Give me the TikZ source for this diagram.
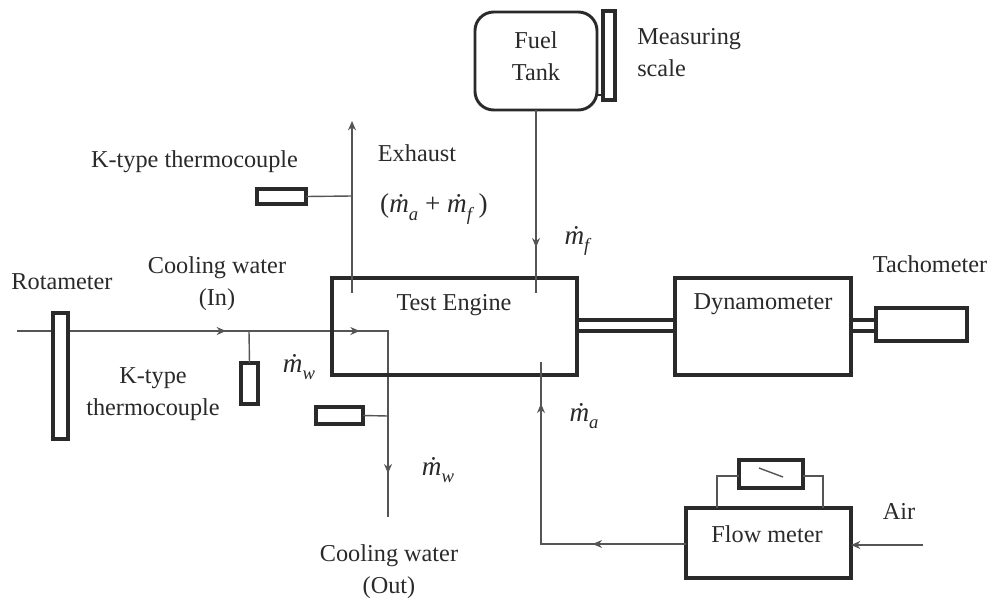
\documentclass[tikz,border=0pt]{standalone}
\usepackage{fontspec}
\setmainfont{Liberation Serif}
\usetikzlibrary{arrows.meta,decorations.markings}
\definecolor{ink}{HTML}{2A2A2A}
\definecolor{wire}{HTML}{555555}
\newcommand{\massflow}[1]{\textit{ṁ}\raisebox{-0.28em}{\fontsize{14pt}{14pt}\selectfont\textit{#1}}}
\tikzset{
  bx/.style 2 args={draw=ink,line width=2.3pt,fill=none,inner sep=0pt,outer sep=0pt,minimum width=#1*0.75pt,minimum height=#2*0.75pt},
  wbx/.style 2 args={bx={#1}{#2},fill=white},
  wirel/.style={draw=wire,line width=1.05pt},
  shaftl/.style={draw=ink,line width=2.3pt},
  tick/.style={postaction={decorate,decoration={markings,mark=at position #1 with {\arrow[wire]{Stealth[length=7pt,width=6pt]}}}}},
  lbl/.style={text=ink,font=\fontsize{18.2pt}{24pt}\selectfont,inner sep=0pt,align=center},
  lbll/.style={lbl,align=left},
  mth/.style={text=ink,font=\fontsize{20.4pt}{22pt}\selectfont,inner sep=0pt},
}
\begin{document}
\begin{tikzpicture}[x=0.75pt,y=-0.75pt]
\useasboundingbox[fill=white] (0,0) rectangle (989,600);
% coordinates
\coordinate (wstart) at (17,331);
\coordinate (wcorner) at (388,331);
\coordinate (wend) at (388,517);
\coordinate (tj1) at (249,331);
\coordinate (tj2) at (388,416);
\coordinate (exin) at (352,293);
\coordinate (exout) at (352,121);
\coordinate (tj3) at (352,196);
\coordinate (fuelin) at (536,293);
\coordinate (airin) at (541,362);
\coordinate (aircorner) at (541,544);
\coordinate (airsrc) at (923,545);
% water line
\draw[wirel,tick=156.75pt,tick=257pt,tick=385pt] (wstart) -- (wcorner) -- (wend);
% boxes
\node[bx={245}{97}] (engine) at (454.5,326.5) {};
\node[bx={176}{97}] (dyno) at (763,326.5) {};
\node[bx={91}{33}] (tacho) at (921.5,324.5) {};
\node[bx={165}{70}] (flow) at (768.5,543) {};
\node[bx={64}{28}] (gauge) at (771,474) {};
\node[draw=ink,line width=2.2pt,rounded corners=14pt,inner sep=0pt,outer sep=0pt,minimum width=91.5pt,minimum height=73.5pt] (tank) at (536,61) {};
\node[wbx={12}{89}] (scale) at (609,55.5) {};
\draw[ink,line width=2.2pt] (tank.east |- 0,95) -- (scale.west |- 0,95);
\node[wbx={15}{126}] (rota) at (60.5,376) {};
\node[wbx={17}{41}] (tc1) at (249.5,383.5) {};
\node[wbx={47}{17}] (tc2) at (339.5,415.5) {};
\node[wbx={49}{15}] (tc3) at (281.5,196.5) {};
% shafts
\draw[shaftl] (engine.east |- 0,320) -- (dyno.west |- 0,320);
\draw[shaftl] (engine.east |- 0,331) -- (dyno.west |- 0,331);
\draw[shaftl] (dyno.east |- 0,320) -- (tacho.west |- 0,320);
\draw[shaftl] (dyno.east |- 0,331) -- (tacho.west |- 0,331);
% sensors
\draw[wirel] (tj1) -- (tc1.north);
\draw[wirel] (tj2) -- (tc2.east);
\draw[wirel] (tj3) -- (tc3.east);
% flows
\draw[wirel,-{Stealth[length=7pt,width=6pt]}] (exin) -- (exout);
\draw[wirel,tick=103pt] (tank.south) -- (fuelin);
\draw[wirel,tick=70pt,tick=214pt] (flow.west |- aircorner) -- (aircorner) -- (airin);
\draw[wirel,-{Stealth[length=7pt,width=6pt]}] (airsrc) -- (flow.east |- airsrc);
% gauge
\coordinate (gl) at (717,476);
\coordinate (gr) at (823,476);
\draw[wirel] (gauge.west |- gl) -- (gl) -- (gl |- flow.north);
\draw[wirel] (gauge.east |- gr) -- (gr) -- (gr |- flow.north);
\coordinate (n1) at (759,468);
\coordinate (n2) at (783,477);
\draw[wirel] (n1) -- (n2);
% labels
\node[lbl] (lrota) at (62,282) {Rotameter};
\node[lbl] (lcwin) at (217,284) {Cooling water\\(In)};
\node[lbl] (lk1) at (153,394) {K-type\\thermocouple};
\node[lbl] (lk2) at (194.5,162) {K-type thermocouple};
\node[lbl] (lex) at (417,153) {Exhaust};
\node[mth] (lsum) at (434,209) {(\massflow{a} + \massflow{f}\,)};
\node[mth] (lmf) at (578,241) {\massflow{f}};
\node[mth] (lmw1) at (299,367) {\massflow{w}};
\node[mth] (lmw2) at (438,470) {\massflow{w}};
\node[mth] (lma) at (584,416) {\massflow{a}};
\node[lbl] (lte) at (454,305) {Test Engine};
\node[lbl] (ldy) at (763,304) {Dynamometer};
\node[lbl] (lta) at (930,264) {Tachometer};
\node[lbl] (lfl) at (767,534) {Flow meter};
\node[lbl] (lair) at (899,511) {Air};
\node[lbl] (lft) at (536,56) {Fuel\\Tank};
\node[lbll,anchor=west] (lms) at (637,53) {Measuring\\scale};
\node[lbl] (lcwo) at (389,572) {Cooling water\\(Out)};
\end{tikzpicture}
\end{document}
